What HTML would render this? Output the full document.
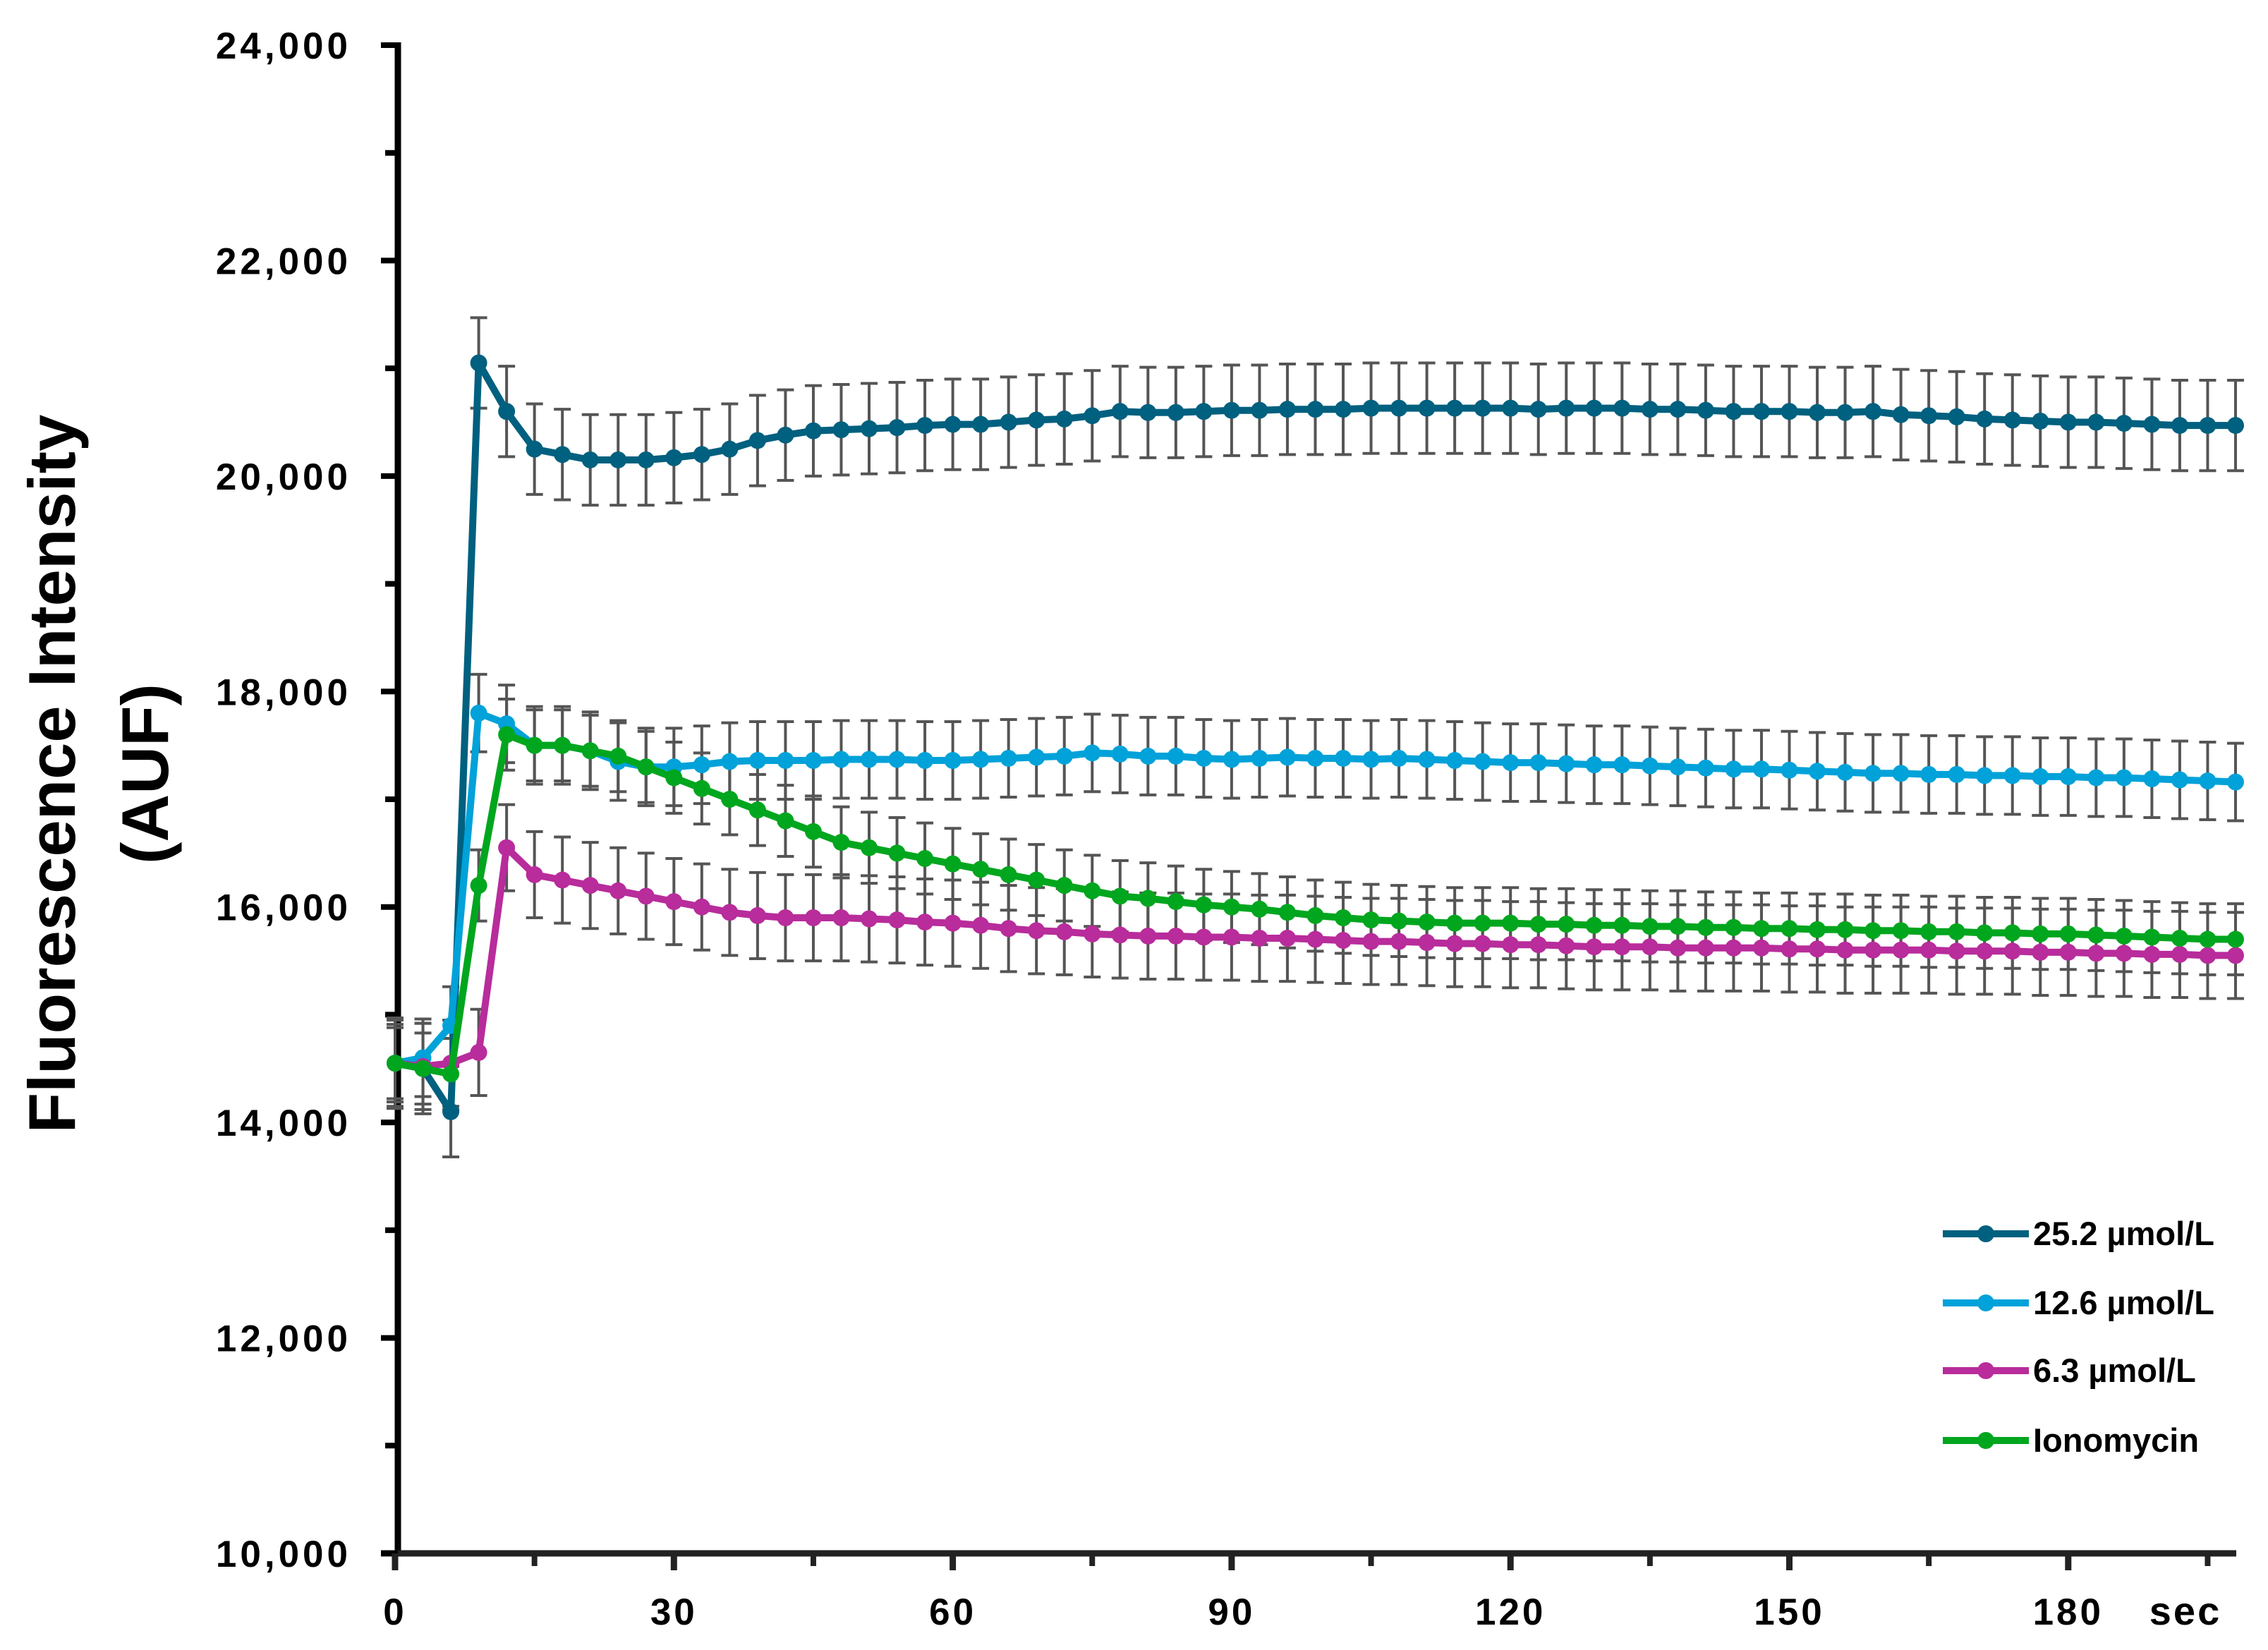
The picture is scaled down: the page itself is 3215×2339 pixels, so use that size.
<!DOCTYPE html>
<html><head><meta charset="utf-8"><style>
html,body{margin:0;padding:0;background:#fff;}
svg{display:block;font-family:"Liberation Sans",Arial,sans-serif;}
</style></head><body>
<svg id="chart" width="3215" height="2339" viewBox="0 0 3215 2339" xmlns="http://www.w3.org/2000/svg">
<g id="axes"></g>
<g id="errs"></g>
<g id="series"></g>
<g id="legend"></g>
<text transform="translate(106,1097) rotate(-90)" text-anchor="middle" font-size="94" font-weight="bold">Fluorescence Intensity</text>
<text transform="translate(238,1097) rotate(-90)" text-anchor="middle" font-size="94" font-weight="bold">(AUF)</text>
</svg>
<script>
const times = [];
for (let t = 0; t <= 198; t += 3) times.push(t);
const seriesNames = ["25.2 µmol/L","12.6 µmol/L","6.3 µmol/L","Ionomycin"];
const seriesColors = ["#00607f","#00a2d9","#b82c9b","#00a61e"];
const dark = [14550,14500,14100,21050,20600,20250,20200,20150,20150,20150,20170,20200,20250,20330,20380,20420,20430,20440,20450,20470,20480,20480,20500,20520,20530,20560,20600,20590,20590,20600,20610,20610,20620,20620,20620,20630,20630,20630,20630,20630,20630,20620,20630,20630,20630,20620,20620,20610,20600,20600,20600,20590,20590,20600,20570,20560,20550,20530,20520,20510,20500,20500,20490,20480,20470,20470,20470];
const light = [14550,14600,14900,17800,17700,17500,17500,17450,17350,17300,17300,17320,17350,17360,17360,17360,17370,17370,17370,17360,17360,17370,17380,17390,17400,17430,17420,17400,17400,17380,17370,17380,17390,17380,17380,17370,17380,17370,17360,17350,17340,17340,17330,17320,17320,17310,17300,17290,17280,17280,17270,17260,17250,17240,17240,17230,17230,17220,17220,17210,17210,17200,17200,17190,17180,17170,17160];
const magenta = [14550,14520,14550,14650,16550,16300,16250,16200,16150,16100,16050,16000,15950,15920,15900,15900,15900,15890,15880,15860,15850,15830,15800,15780,15770,15750,15740,15730,15730,15720,15720,15710,15710,15700,15690,15680,15680,15670,15660,15660,15650,15650,15640,15630,15630,15630,15620,15620,15620,15620,15610,15610,15600,15600,15600,15600,15590,15590,15590,15580,15580,15570,15570,15560,15560,15550,15550];
const green = [14550,14500,14450,16200,17600,17500,17500,17450,17400,17300,17200,17100,17000,16900,16800,16700,16600,16550,16500,16450,16400,16350,16300,16250,16200,16150,16100,16080,16050,16020,16000,15980,15950,15920,15900,15880,15870,15860,15850,15850,15850,15840,15840,15830,15830,15820,15820,15810,15810,15800,15800,15790,15790,15780,15780,15770,15770,15760,15760,15750,15750,15740,15730,15720,15710,15700,15700];
const errSizes = [420, 360, 400, 330];
const yTicks = [10000,12000,14000,16000,18000,20000,22000,24000];
const yTickLabels = ["10,000","12,000","14,000","16,000","18,000","20,000","22,000","24,000"];
const xTicks = [0,30,60,90,120,150,180];
const xTickLabels = ["0","30","60","90","120","150","180"];

const NS = "http://www.w3.org/2000/svg";
const X0 = 560, PXS = 395.3/30;
const Y0 = 2202, PXV = (2202-64)/14000;
function xs(t){ return X0 + t*PXS; }
function ys(v){ return Y0 - (v-10000)*PXV; }
function mk(tag, attrs, parent){ const e=document.createElementNS(NS,tag); for(const k in attrs) e.setAttribute(k,attrs[k]); parent.appendChild(e); return e; }

const axes = document.getElementById('axes');
const xEnd = 3170;
let a = mk('line',{x1:564,y1:60,x2:564,y2:2206,stroke:'#000','stroke-width':9},axes);


a = mk('line',{x1:540,y1:2202,x2:xEnd,y2:2202,stroke:'#222','stroke-width':9},axes);


for (let v = 10000; v <= 24000; v += 1000) {
  const major = (v % 2000 === 0);
  const tk = mk('line',{x1: major?540:546, y1: ys(v), x2: 564, y2: ys(v), stroke:'#000','stroke-width':8},axes);
  
  
}
yTicks.forEach((v,i)=>{
  const t = mk('text',{x:498,y:ys(v)+19,'text-anchor':'end','font-size':53,'font-weight':'bold','letter-spacing':5},axes);
  t.textContent = yTickLabels[i];
  
  
});
for (let t = 0; t <= 195; t += 15) {
  const major = (t % 30 === 0);
  const tk = mk('line',{x1: xs(t), y1: 2202, x2: xs(t), y2: major?2226:2220, stroke:'#222','stroke-width':major?9:8},axes);
  
  
}
xTicks.forEach((t,i)=>{
  const e = mk('text',{x:xs(t),y:2303,'text-anchor':'middle','font-size':53,'font-weight':'bold','letter-spacing':4},axes);
  e.textContent = xTickLabels[i];
  
  
});
const sec = mk('text',{x:3098,y:2303,'text-anchor':'middle','font-size':56,'font-weight':'bold','letter-spacing':3},axes);
sec.textContent = 'sec';



const allSeries = [dark, light, magenta, green];
const errG = document.getElementById('errs');
const serG = document.getElementById('series');
allSeries.forEach((vals, si) => {
  vals.forEach((v, i) => {
    const x = xs(times[i]), e = errSizes[si];
    const g = mk('g',{stroke:'#555','stroke-width':4,fill:'none'},errG);
    
    
    mk('line',{x1:x,y1:ys(v+e),x2:x,y2:ys(v-e)},g);
    mk('line',{x1:x-12,y1:ys(v+e),x2:x+12,y2:ys(v+e)},g);
    mk('line',{x1:x-12,y1:ys(v-e),x2:x+12,y2:ys(v-e)},g);
  });
});
allSeries.forEach((vals, si) => {
  const pts = vals.map((v,i)=> xs(times[i]).toFixed(1)+','+ys(v).toFixed(1)).join(' ');
  const pl = mk('polyline',{points:pts,fill:'none',stroke:seriesColors[si],'stroke-width':10,'stroke-linejoin':'round'},serG);
  
  
  vals.forEach((v,i)=>{
    const c = mk('circle',{cx:xs(times[i]),cy:ys(v),r:12,fill:seriesColors[si]},serG);
    
    
  });
});

const leg = document.getElementById('legend');
const legY = [1749,1847,1943,2042];
seriesNames.forEach((n, i) => {
  const g = mk('g',{},leg);
  
  
  mk('line',{x1:2754,y1:legY[i],x2:2876,y2:legY[i],stroke:seriesColors[i],'stroke-width':10},g);
  mk('circle',{cx:2815,cy:legY[i],r:12,fill:seriesColors[i]},g);
  const t = mk('text',{x:2882,y:legY[i]+16,'font-size':47,'font-weight':'bold'},g);
  t.textContent = n;
});
</script>
</body></html>
